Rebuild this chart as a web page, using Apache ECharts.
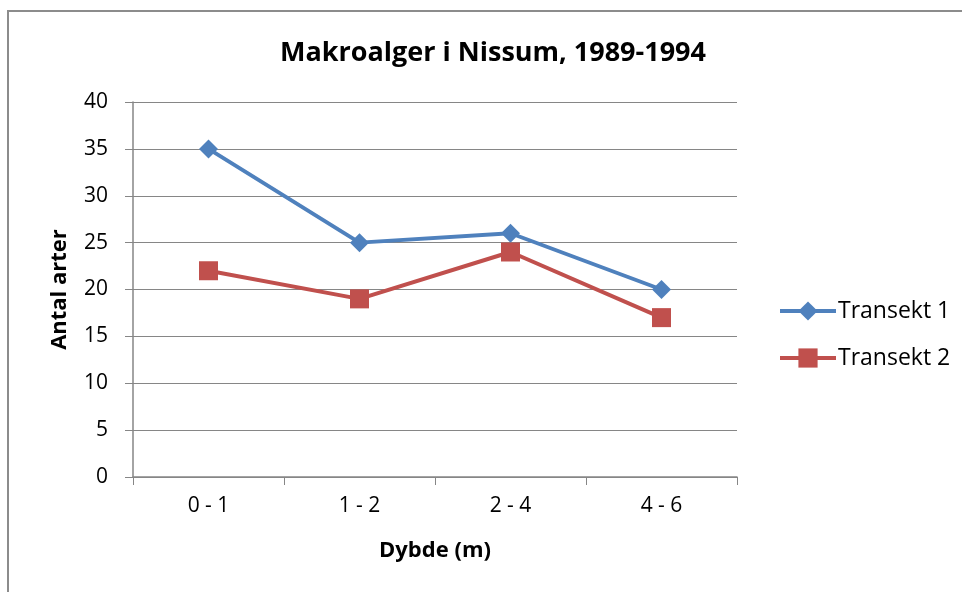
<!DOCTYPE html>
<html><head><meta charset="utf-8">
<script src="https://cdn.jsdelivr.net/npm/echarts@6/dist/echarts.min.js"></script>
<style>
html,body{margin:0;padding:0;background:#fff;}
#frame{position:absolute;left:7px;top:10px;width:1000px;height:700px;border-left:2px solid #8c8c8c;border-top:2px solid #8c8c8c;box-sizing:border-box;}
#c{position:absolute;left:0;top:0;width:962px;height:592px;}
</style></head>
<body>
<div id="frame"></div>
<div id="c"></div>
<script>
const categories = ['0 - 1', '1 - 2', '2 - 4', '4 - 6'];
const transekt1 = [35, 25, 26, 20];
const transekt2 = [22, 19, 24, 17];
const yTicks = [0, 5, 10, 15, 20, 25, 30, 35, 40];

const font = '"Open Sans", Lato, sans-serif';
const chart = echarts.init(document.getElementById('c'));
chart.setOption({
  animation: false,
  title: {
    text: 'Makroalger i Nissum, 1989-1994',
    left: 488, top: 35, textAlign: 'center',
    textStyle: {fontFamily: font, fontSize: 27, fontWeight: 'bold', color: '#000'}
  },
  legend: {
    orient: 'vertical', left: 778, top: 299, itemGap: 23, padding: 0,
    itemWidth: 56, itemHeight: 24,
    lineStyle: {width: 4},
    textStyle: {fontFamily: font, fontSize: 23, lineHeight: 24, color: '#000', padding: [0,0,0,-3]},
    data: ['Transekt 1', 'Transekt 2']
  },
  grid: {left: 133, right: 225, top: 102, bottom: 115},
  xAxis: {
    type: 'category', data: categories, boundaryGap: true,
    name: 'Dybde (m)', nameLocation: 'middle', nameGap: 63,
    nameTextStyle: {fontFamily: font, fontSize: 22, fontWeight: 'bold', color: '#000'},
    axisLine: {lineStyle: {color: '#868686', width: 1.5}},
    axisTick: {show: true, length: 8, inside: false, lineStyle: {color: '#868686'}},
    axisLabel: {fontFamily: font, fontSize: 21, color: '#000', margin: 19}
  },
  yAxis: {
    type: 'value', min: yTicks[0], max: yTicks[yTicks.length-1], interval: 5,
    name: 'Antal arter', nameLocation: 'middle', nameGap: 62, nameRotate: 90,
    nameTextStyle: {fontFamily: font, fontSize: 22, fontWeight: 'bold', color: '#000'},
    axisLine: {show: true, lineStyle: {color: '#868686', width: 1.5}},
    axisTick: {show: true, length: 8, lineStyle: {color: '#868686'}},
    splitLine: {lineStyle: {color: '#868686', width: 1.2}},
    axisLabel: {fontFamily: font, fontSize: 21, color: '#000', margin: 25}
  },
  series: [
    {name: 'Transekt 1', type: 'line', data: transekt1,
     symbol: 'diamond', symbolSize: 19,
     lineStyle: {color: '#4F81BD', width: 4},
     itemStyle: {color: '#4F81BD'}},
    {name: 'Transekt 2', type: 'line', data: transekt2,
     symbol: 'rect', symbolSize: 19,
     lineStyle: {color: '#C0504D', width: 4},
     itemStyle: {color: '#C0504D'}}
  ]
});
</script>
</body></html>
